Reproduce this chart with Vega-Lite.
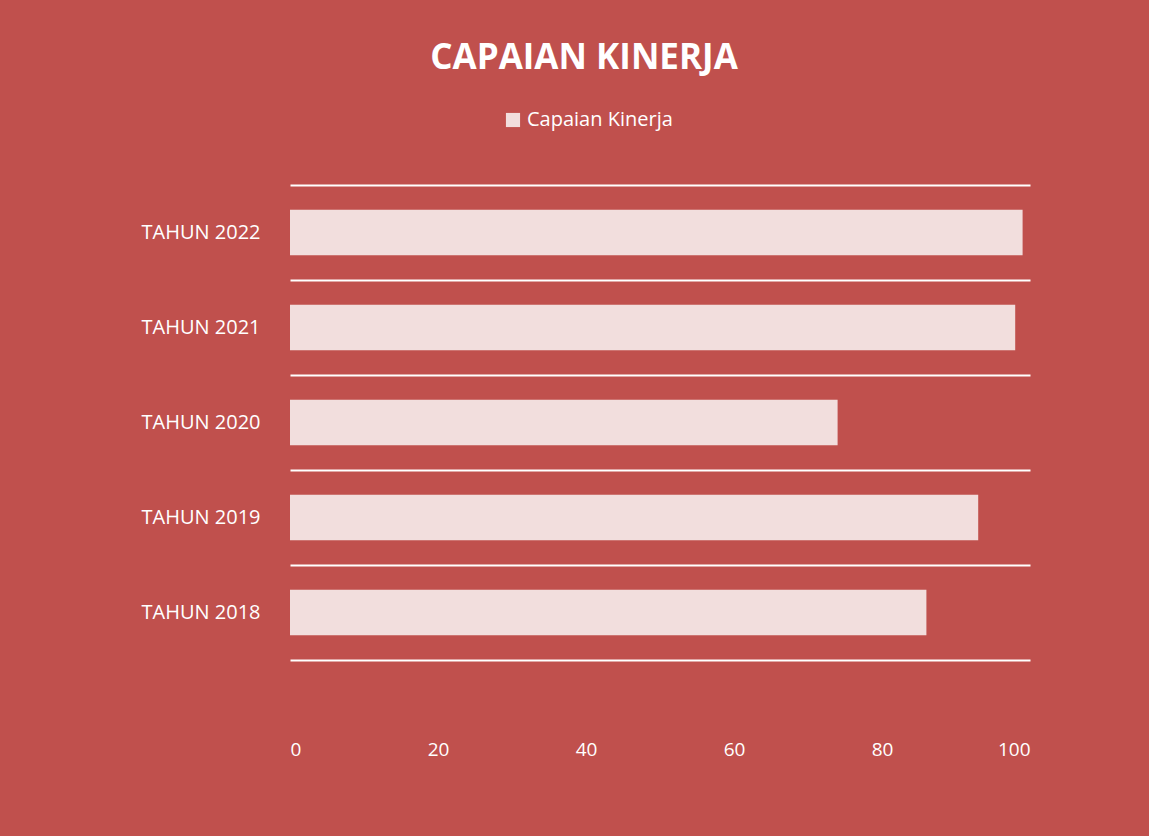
{
  "$schema": "https://vega.github.io/schema/vega-lite/v6.json",
  "autosize": {"type": "none"},
  "padding": {"left": 290, "top": 185, "right": 119, "bottom": 176},
  "width": 740,
  "height": 475,
  "background": "#C0504D",
  "title": {
    "text": "CAPAIAN KINERJA",
    "font": "Open Sans",
    "fontSize": 35,
    "fontWeight": "bold",
    "color": "#FFFFFF",
    "anchor": "middle",
    "dx": -76,
    "offset": 34
  },
  "data": {
    "values": [
      {"tahun": "TAHUN 2018", "nilai": 86, "seri": "Capaian Kinerja"},
      {"tahun": "TAHUN 2019", "nilai": 93, "seri": "Capaian Kinerja"},
      {"tahun": "TAHUN 2020", "nilai": 74, "seri": "Capaian Kinerja"},
      {"tahun": "TAHUN 2021", "nilai": 98, "seri": "Capaian Kinerja"},
      {"tahun": "TAHUN 2022", "nilai": 99, "seri": "Capaian Kinerja"}
    ]
  },
  "mark": {"type": "bar", "height": {"band": 0.48}},
  "encoding": {
    "y": {
      "field": "tahun",
      "type": "nominal",
      "sort": ["TAHUN 2022", "TAHUN 2021", "TAHUN 2020", "TAHUN 2019", "TAHUN 2018"],
      "scale": {"paddingInner": 0, "paddingOuter": 0},
      "axis": {
        "title": null,
        "grid": true,
        "tickBand": "extent",
        "gridColor": "#FFFFFF",
        "gridWidth": 2,
        "domain": false,
        "ticks": false,
        "labelPadding": 30,
        "labelFont": "Open Sans",
        "labelFontSize": 20,
        "labelColor": "#FFFFFF"
      }
    },
    "x": {
      "field": "nilai",
      "type": "quantitative",
      "scale": {"domain": [0, 100]},
      "axis": {
        "title": null,
        "values": [0, 20, 40, 60, 80, 100],
        "grid": false,
        "domain": false,
        "ticks": false,
        "labelPadding": 80,
        "labelFont": "Open Sans",
        "labelFontSize": 19,
        "labelColor": "#FFFFFF"
      }
    },
    "color": {
      "field": "seri",
      "type": "nominal",
      "scale": {"range": ["#F2DEDD"]},
      "legend": {
        "title": null,
        "orient": "none",
        "legendX": 213,
        "legendY": -75,
        "direction": "horizontal",
        "symbolType": "square",
        "symbolSize": 200,
        "symbolStrokeWidth": 0,
        "labelFont": "Open Sans",
        "labelFontSize": 20,
        "labelColor": "#FFFFFF"
      }
    }
  },
  "config": {
    "view": {"stroke": null}
  }
}
